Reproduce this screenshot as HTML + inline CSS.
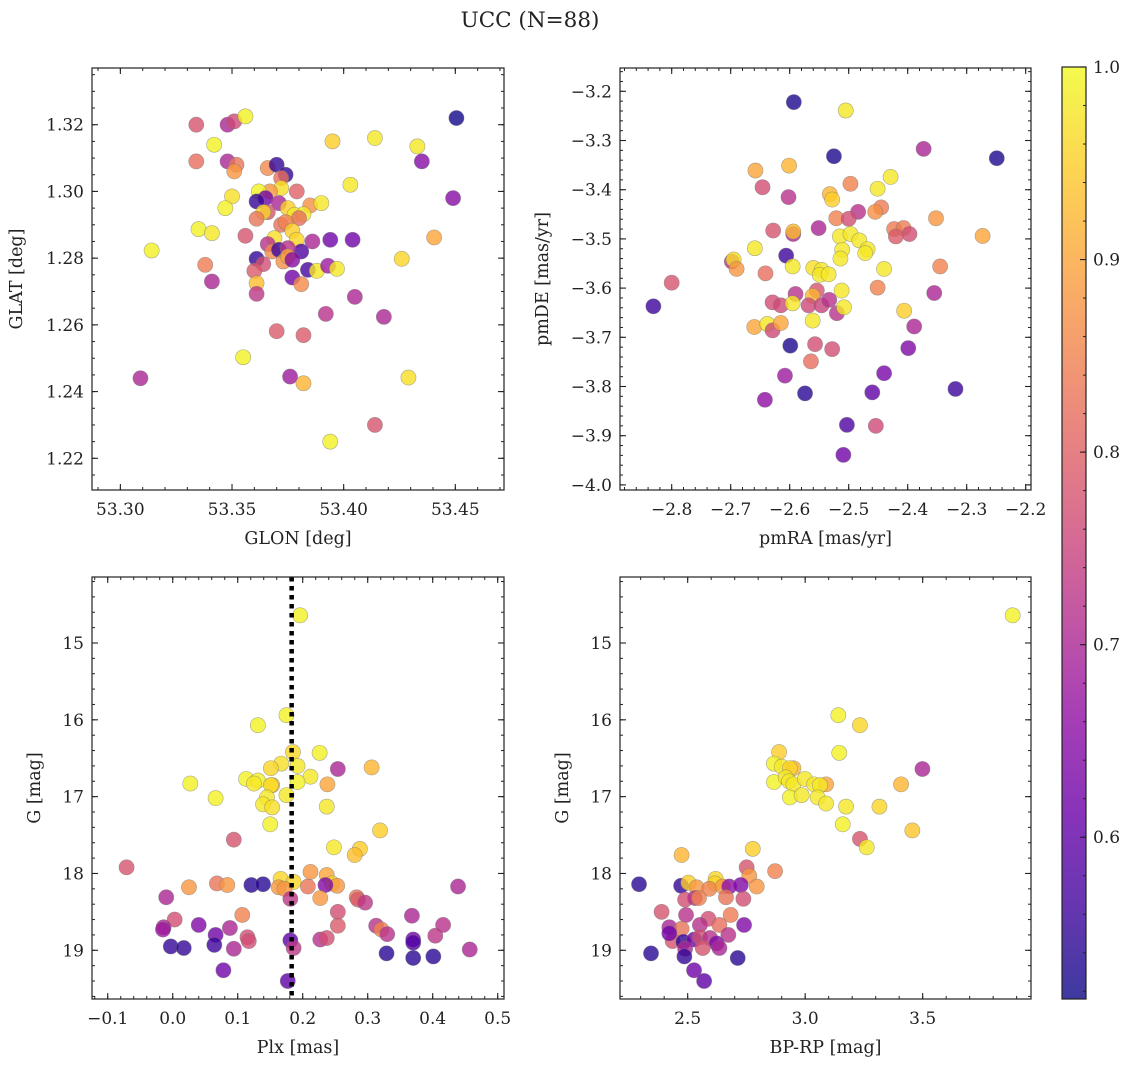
<!DOCTYPE html>
<html><head><meta charset="utf-8"><style>
body{margin:0;background:#fff}
svg text{font-family:"DejaVu Serif","Liberation Serif",serif;fill:#222}
</style></head><body>
<svg id="fig" width="1136" height="1067" xmlns="http://www.w3.org/2000/svg">
<text x="530" y="27" font-size="21.5" text-anchor="middle">UCC (N=88)</text>
</svg>
<script>
// Panel 1: GLON vs GLAT
const glon=[53.4505,53.334,53.348,53.351,53.356,53.342,53.395,53.414,53.433,53.435,53.334,53.348,53.352,53.351,53.366,53.370,53.374,53.372,53.403,53.449,53.372,53.367,53.362,53.379,53.365,53.361,53.350,53.347,53.371,53.375,53.385,53.390,53.378,53.382,53.380,53.366,53.364,53.361,53.372,53.374,53.377,53.335,53.341,53.356,53.369,53.366,53.379,53.386,53.394,53.404,53.4405,53.314,53.368,53.371,53.381,53.375,53.361,53.364,53.373,53.375,53.377,53.426,53.338,53.360,53.384,53.388,53.393,53.397,53.377,53.381,53.341,53.361,53.361,53.405,53.392,53.418,53.370,53.382,53.355,53.309,53.376,53.382,53.429,53.414,53.394];
const glat=[1.322,1.320,1.320,1.321,1.3225,1.314,1.315,1.316,1.3135,1.309,1.309,1.309,1.308,1.306,1.307,1.308,1.305,1.304,1.302,1.298,1.301,1.300,1.300,1.300,1.298,1.297,1.2985,1.295,1.2965,1.295,1.2958,1.2965,1.293,1.2932,1.292,1.2938,1.2938,1.2918,1.290,1.2908,1.2882,1.2887,1.2875,1.2867,1.286,1.2842,1.2855,1.285,1.2855,1.2855,1.2862,1.2823,1.282,1.2825,1.282,1.283,1.2798,1.2782,1.279,1.2805,1.2795,1.2798,1.278,1.2762,1.2765,1.2762,1.2777,1.2768,1.2742,1.2722,1.273,1.2725,1.2693,1.2684,1.2633,1.2624,1.2581,1.2569,1.2503,1.244,1.2445,1.2425,1.2442,1.230,1.225];
const prob1=[0.52,0.78,0.70,0.76,0.99,0.99,0.95,0.98,0.98,0.65,0.82,0.70,0.83,0.88,0.86,0.55,0.55,0.82,0.98,0.65,0.97,0.88,0.99,0.80,0.62,0.55,0.97,0.99,0.70,0.95,0.87,0.98,0.98,0.98,0.82,0.78,0.96,0.83,0.82,0.85,0.95,0.99,0.98,0.78,0.97,0.72,0.96,0.70,0.62,0.62,0.90,0.99,0.86,0.56,0.58,0.72,0.55,0.77,0.87,0.90,0.65,0.96,0.84,0.79,0.57,0.98,0.68,0.98,0.62,0.86,0.70,0.93,0.73,0.70,0.72,0.70,0.79,0.79,0.99,0.70,0.68,0.92,0.97,0.78,0.99];
// Panel 2: pmRA vs pmDE
const pmra=[-2.593,-2.505,-2.373,-2.525,-2.249,-2.658,-2.601,-2.497,-2.451,-2.429,-2.646,-2.602,-2.532,-2.528,-2.484,-2.445,-2.455,-2.521,-2.500,-2.352,-2.628,-2.594,-2.594,-2.551,-2.515,-2.497,-2.482,-2.423,-2.407,-2.397,-2.420,-2.273,-2.659,-2.511,-2.468,-2.472,-2.606,-2.514,-2.698,-2.695,-2.690,-2.595,-2.560,-2.546,-2.549,-2.534,-2.641,-2.440,-2.345,-2.800,-2.512,-2.451,-2.355,-2.590,-2.554,-2.561,-2.629,-2.615,-2.595,-2.568,-2.546,-2.533,-2.520,-2.508,-2.831,-2.406,-2.660,-2.638,-2.629,-2.615,-2.561,-2.389,-2.599,-2.557,-2.528,-2.399,-2.564,-2.608,-2.440,-2.319,-2.574,-2.460,-2.642,-2.503,-2.454,-2.509];
const pmde=[-3.222,-3.239,-3.317,-3.332,-3.336,-3.361,-3.351,-3.388,-3.398,-3.374,-3.395,-3.415,-3.409,-3.420,-3.445,-3.436,-3.445,-3.458,-3.459,-3.458,-3.483,-3.490,-3.485,-3.478,-3.495,-3.490,-3.503,-3.480,-3.478,-3.490,-3.495,-3.494,-3.519,-3.522,-3.521,-3.529,-3.534,-3.540,-3.546,-3.542,-3.561,-3.556,-3.559,-3.563,-3.573,-3.572,-3.570,-3.561,-3.556,-3.589,-3.605,-3.599,-3.610,-3.612,-3.605,-3.616,-3.629,-3.635,-3.631,-3.635,-3.635,-3.624,-3.651,-3.639,-3.637,-3.646,-3.679,-3.673,-3.686,-3.671,-3.666,-3.678,-3.717,-3.714,-3.724,-3.722,-3.749,-3.778,-3.773,-3.805,-3.814,-3.812,-3.827,-3.878,-3.880,-3.939];
const prob2=[0.53,0.98,0.70,0.53,0.53,0.90,0.92,0.85,0.98,0.98,0.77,0.72,0.92,0.95,0.72,0.84,0.87,0.85,0.77,0.88,0.78,0.70,0.93,0.70,0.98,0.98,0.98,0.84,0.84,0.77,0.79,0.90,0.98,0.98,0.98,0.98,0.56,0.98,0.72,0.97,0.88,0.98,0.97,0.98,0.98,0.98,0.82,0.98,0.85,0.78,0.98,0.85,0.70,0.72,0.78,0.92,0.77,0.76,0.98,0.76,0.75,0.72,0.72,0.98,0.56,0.95,0.90,0.98,0.76,0.90,0.98,0.70,0.53,0.77,0.77,0.64,0.82,0.68,0.63,0.56,0.54,0.60,0.66,0.58,0.76,0.62];
// Panel 3: Plx vs G
const plx=[0.196,0.175,0.131,0.185,0.226,0.254,0.306,0.167,0.151,0.192,0.212,0.192,0.113,0.131,0.125,0.153,0.151,0.027,0.238,0.066,0.145,0.175,0.139,0.153,0.237,0.150,0.319,0.094,0.248,0.288,0.280,-0.071,0.212,0.237,0.166,0.186,0.245,0.253,0.235,0.025,0.068,0.084,0.121,0.139,0.163,0.172,0.208,0.439,-0.010,0.181,0.227,0.283,0.285,0.296,0.254,0.107,0.003,0.368,0.040,0.254,0.313,0.321,0.416,-0.014,-0.015,0.088,0.066,0.115,0.117,0.227,0.237,0.330,0.404,0.370,0.370,0.181,0.186,-0.003,0.017,0.064,0.094,0.457,0.329,0.370,0.401,0.078,0.177];
const gmag3=[14.64,15.94,16.07,16.42,16.43,16.64,16.62,16.57,16.63,16.60,16.74,16.81,16.77,16.79,16.83,16.85,16.85,16.83,16.84,17.02,17.01,16.98,17.10,17.14,17.13,17.36,17.44,17.56,17.66,17.68,17.76,17.92,17.98,18.02,18.07,18.11,18.13,18.16,18.15,18.18,18.13,18.15,18.15,18.14,18.18,18.20,18.17,18.17,18.31,18.33,18.32,18.31,18.34,18.38,18.50,18.54,18.60,18.55,18.67,18.68,18.68,18.73,18.67,18.70,18.73,18.71,18.80,18.83,18.88,18.86,18.84,18.79,18.81,18.86,18.90,18.87,18.97,18.95,18.97,18.93,18.98,18.99,19.04,19.10,19.08,19.26,19.40];
const prob3=[0.99,0.99,0.99,0.96,0.99,0.70,0.92,0.97,0.96,0.98,0.98,0.99,0.99,0.99,0.98,0.93,0.97,0.99,0.90,0.99,0.98,0.98,0.98,0.97,0.98,0.99,0.95,0.78,0.98,0.95,0.93,0.78,0.88,0.90,0.96,0.96,0.96,0.88,0.64,0.88,0.83,0.88,0.54,0.54,0.88,0.88,0.83,0.70,0.70,0.73,0.88,0.83,0.79,0.73,0.77,0.85,0.77,0.70,0.64,0.79,0.72,0.85,0.72,0.70,0.68,0.70,0.62,0.77,0.77,0.72,0.77,0.72,0.73,0.62,0.58,0.60,0.73,0.55,0.55,0.56,0.70,0.70,0.54,0.54,0.54,0.62,0.60];
const plxLine=0.183;
// Panel 4: BP-RP vs G
const bprp=[3.883,3.141,3.233,3.145,3.499,2.889,2.867,2.900,2.950,2.935,2.867,2.917,2.931,2.950,2.999,3.038,3.089,3.063,3.408,2.935,2.985,3.053,3.089,3.174,3.316,3.160,3.456,3.233,3.262,2.474,2.777,2.751,2.872,2.762,2.794,2.293,2.472,2.503,2.538,2.619,2.616,2.592,2.649,2.677,2.726,2.489,2.531,2.548,2.663,2.737,2.389,2.493,2.683,2.588,2.422,2.474,2.552,2.635,2.740,2.673,2.436,2.482,2.528,2.552,2.595,2.623,2.635,2.564,2.489,2.344,2.486,2.713,2.527,2.570,2.422];
const gmag4=[14.64,15.94,16.07,16.43,16.64,16.42,16.57,16.61,16.63,16.63,16.81,16.75,16.80,16.84,16.77,16.84,16.84,16.85,16.84,17.01,16.98,17.01,17.09,17.13,17.13,17.36,17.44,17.55,17.66,17.76,17.68,17.92,17.97,18.03,18.17,18.14,18.16,18.12,18.18,18.07,18.13,18.20,18.17,18.17,18.15,18.34,18.32,18.32,18.31,18.33,18.50,18.54,18.54,18.59,18.70,18.72,18.67,18.67,18.67,18.80,18.88,18.89,18.86,18.83,18.84,18.91,18.97,18.97,18.98,19.04,19.08,19.10,19.26,19.40,18.78];
const prob4=[0.99,0.99,0.96,0.99,0.70,0.95,0.99,0.98,0.92,0.96,0.99,0.98,0.98,0.98,0.98,0.98,0.90,0.98,0.92,0.99,0.98,0.98,0.98,0.98,0.96,0.99,0.94,0.78,0.98,0.92,0.95,0.78,0.85,0.88,0.88,0.54,0.55,0.95,0.88,0.96,0.96,0.85,0.88,0.66,0.64,0.77,0.72,0.85,0.83,0.77,0.78,0.72,0.84,0.77,0.70,0.83,0.72,0.82,0.64,0.72,0.78,0.55,0.62,0.77,0.72,0.64,0.70,0.78,0.70,0.54,0.55,0.54,0.62,0.60,0.62];
const cbTicks=[0.6,0.7,0.8,0.9,1.0];
const cMin=0.516,cMax=1.0;

const NS='http://www.w3.org/2000/svg';
const svg=document.getElementById('fig');
function mk(tag,attrs,parent){const e=document.createElementNS(NS,tag);for(const k in attrs)e.setAttribute(k,attrs[k]);(parent||svg).appendChild(e);return e;}
const stops=[[13,8,135],[65,4,157],[106,0,168],[143,13,164],[177,42,144],[204,71,120],[225,100,98],[242,132,75],[252,166,54],[252,206,37],[240,249,33]];
function plasma(t){t=Math.max(0,Math.min(1,t));const f=t*10,i=Math.min(9,Math.floor(f)),r=f-i;const a=stops[i],b=stops[i+1];return 'rgb('+a.map((v,k)=>Math.round(v+(b[k]-v)*r)).join(',')+')';}
function cnorm(v){return (v-cMin)/(cMax-cMin);}
function fmt(v,d){const s=Math.abs(v).toFixed(d);return (v<-1e-9?'\u2212':'')+s;}
const TF=17, LF=17.5;

function panel(p){
  const g=mk('g',{});
  
  
  const X=v=>p.x0+(v-p.xmin)/(p.xmax-p.xmin)*(p.x1-p.x0);
  const Y=v=>p.yinv? p.y0+(v-p.ymin)/(p.ymax-p.ymin)*(p.y1-p.y0) : p.y1-(v-p.ymin)/(p.ymax-p.ymin)*(p.y1-p.y0);
  for(let i=0;i<p.xs.length;i++){
    const c=mk('circle',{cx:X(p.xs[i]),cy:Y(p.ys[i]),r:7.6,fill:plasma(cnorm(p.cs[i])),'fill-opacity':0.8,stroke:'#777','stroke-opacity':0.6,'stroke-width':0.6},g);
    
    
  }
  if(p.vline!==undefined){const l=mk('line',{x1:X(p.vline),x2:X(p.vline),y1:p.y0,y2:p.y1,stroke:'#000','stroke-width':4.5,'stroke-dasharray':'4.5,4.5'},g);
    }
  mk('rect',{x:p.x0,y:p.y0,width:p.x1-p.x0,height:p.y1-p.y0,fill:'none',stroke:'#222','stroke-width':1.2},g);
  const eps=1e-9;
  for(let v=Math.ceil(p.xmin/p.xminor-eps)*p.xminor;v<=p.xmax+eps;v+=p.xminor){const x=X(v);
    mk('line',{x1:x,x2:x,y1:p.y1,y2:p.y1-3,stroke:'#222'},g);mk('line',{x1:x,x2:x,y1:p.y0,y2:p.y0+3,stroke:'#222'},g);}
  for(let v=Math.ceil(p.ymin/p.yminor-eps)*p.yminor;v<=p.ymax+eps;v+=p.yminor){const y=Y(v);
    mk('line',{x1:p.x0,x2:p.x0+3,y1:y,y2:y,stroke:'#222'},g);mk('line',{x1:p.x1,x2:p.x1-3,y1:y,y2:y,stroke:'#222'},g);}
  p.xticks.forEach(v=>{const x=X(v);
    mk('line',{x1:x,x2:x,y1:p.y1,y2:p.y1-6,stroke:'#222','stroke-width':1.1},g);mk('line',{x1:x,x2:x,y1:p.y0,y2:p.y0+6,stroke:'#222','stroke-width':1.1},g);
    const t=mk('text',{x:x,y:p.y1+25,'font-size':TF,'text-anchor':'middle'},g);t.textContent=fmt(v,p.xd);
    });
  p.yticks.forEach(v=>{const y=Y(v);
    mk('line',{x1:p.x0,x2:p.x0+6,y1:y,y2:y,stroke:'#222','stroke-width':1.1},g);mk('line',{x1:p.x1,x2:p.x1-6,y1:y,y2:y,stroke:'#222','stroke-width':1.1},g);
    const t=mk('text',{x:p.x0-8,y:y+6,'font-size':TF,'text-anchor':'end'},g);t.textContent=fmt(v,p.yd);
    });
  const xl=mk('text',{x:(p.x0+p.x1)/2,y:p.y1+54,'font-size':LF,'text-anchor':'middle'},g);xl.textContent=p.xlabel;
  
  const yl=mk('text',{x:0,y:0,'font-size':LF,'text-anchor':'middle',transform:'translate('+p.ylx+','+(p.y0+p.y1)/2+') rotate(-90)'},g);yl.textContent=p.ylabel;
  
}
panel({name:'glon-glat-panel',x0:92,x1:504,y0:68,y1:490,xmin:53.2873,xmax:53.4718,ymin:1.2105,ymax:1.3370,xs:glon,ys:glat,cs:prob1,
  xticks:[53.30,53.35,53.40,53.45],xd:2,xminor:0.01,yticks:[1.22,1.24,1.26,1.28,1.30,1.32],yd:2,yminor:0.005,xlabel:'GLON [deg]',ylabel:'GLAT [deg]',ylx:22});
panel({name:'proper-motion-panel',x0:620,x1:1031,y0:68,y1:490,xmin:-2.8876,xmax:-2.191,ymin:-4.0104,ymax:-3.1526,xs:pmra,ys:pmde,cs:prob2,
  xticks:[-2.8,-2.7,-2.6,-2.5,-2.4,-2.3,-2.2],xd:1,xminor:0.02,yticks:[-4.0,-3.9,-3.8,-3.7,-3.6,-3.5,-3.4,-3.3,-3.2],yd:1,yminor:0.02,xlabel:'pmRA [mas/yr]',ylabel:'pmDE [mas/yr]',ylx:548});
panel({name:'plx-g-panel',x0:92,x1:504,y0:577,y1:999,xmin:-0.1242,xmax:0.5097,ymin:14.141,ymax:19.634,yinv:true,xs:plx,ys:gmag3,cs:prob3,vline:plxLine,
  xticks:[-0.1,0.0,0.1,0.2,0.3,0.4,0.5],xd:1,xminor:0.02,yticks:[15,16,17,18,19],yd:0,yminor:0.2,xlabel:'Plx [mas]',ylabel:'G [mag]',ylx:40});
panel({name:'cmd-panel',x0:620,x1:1031,y0:577,y1:999,xmin:2.212,xmax:3.961,ymin:14.141,ymax:19.634,yinv:true,xs:bprp,ys:gmag4,cs:prob4,
  xticks:[2.5,3.0,3.5],xd:1,xminor:0.1,yticks:[15,16,17,18,19],yd:0,yminor:0.2,xlabel:'BP-RP [mag]',ylabel:'G [mag]',ylx:568});

const cb=mk('g',{});


const defs=mk('defs',{},cb);
const lg=mk('linearGradient',{id:'cbg',x1:0,y1:1,x2:0,y2:0},defs);
for(let i=0;i<=20;i++){const t=i/20;mk('stop',{offset:t,'stop-color':plasma(t),'stop-opacity':0.8},lg);}
const cbx0=1062,cbx1=1086,cby0=67,cby1=999;
mk('rect',{x:cbx0,y:cby0,width:cbx1-cbx0,height:cby1-cby0,fill:'url(#cbg)',stroke:'#222','stroke-width':1.2},cb);
const CY=v=>cby1-(v-cMin)/(cMax-cMin)*(cby1-cby0);
for(let v=0.52;v<=1.0001;v+=0.02){mk('line',{x1:cbx1,x2:cbx1-3,y1:CY(v),y2:CY(v),stroke:'#222'},cb);}
cbTicks.forEach(v=>{const y=CY(v);mk('line',{x1:cbx1,x2:cbx1-6,y1:y,y2:y,stroke:'#222','stroke-width':1.1},cb);
  const t=mk('text',{x:cbx1+7,y:y+6,'font-size':TF},cb);t.textContent=v.toFixed(1);
  });
</script>
</body></html>
